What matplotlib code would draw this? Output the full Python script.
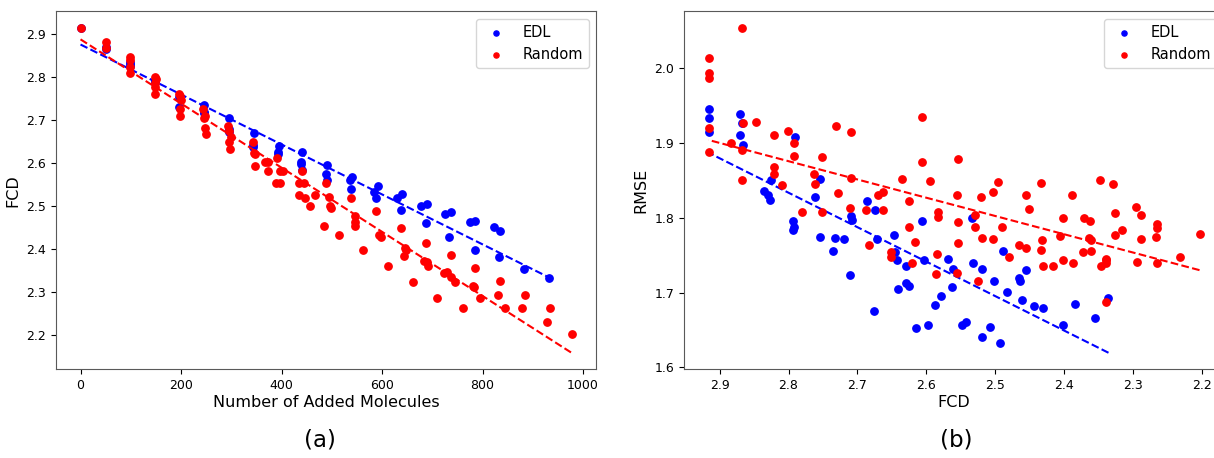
import numpy as np
import matplotlib
matplotlib.use('Agg')
import matplotlib.pyplot as plt

# (a) FCD vs number of added molecules
edl_added = [0, 50, 50, 99, 99, 99, 148, 148, 196, 196, 245, 245, 245, 295, 295, 295,
             345, 343, 343, 395, 392, 392, 441, 439, 439, 440, 491, 488, 490, 541, 537, 539,
             591, 583, 588, 640, 629, 637, 689, 677, 687, 737, 726, 734, 785, 774, 784,
             835, 822, 832, 883, 932]
edl_fcd = [2.915, 2.870, 2.866, 2.836, 2.830, 2.826, 2.793, 2.788, 2.753, 2.730, 2.735, 2.720,
           2.717, 2.706, 2.680, 2.673, 2.670, 2.642, 2.638, 2.640, 2.626, 2.622, 2.626, 2.602,
           2.597, 2.584, 2.595, 2.576, 2.560, 2.567, 2.562, 2.539, 2.546, 2.533, 2.518, 2.529,
           2.518, 2.492, 2.506, 2.500, 2.460, 2.487, 2.481, 2.429, 2.465, 2.464, 2.399, 2.443,
           2.452, 2.382, 2.353, 2.334]

rnd_added = [0, 50, 50, 99, 99, 99, 99, 148, 150, 148, 148, 148, 196, 198, 200, 198, 198,
             243, 248, 245, 248, 249, 294, 296, 300, 296, 298, 343, 346, 348, 347,
             368, 374, 374, 390, 397, 403, 389, 397, 440, 434, 444, 435, 447, 456, 466,
             488, 495, 497, 498, 485, 515, 539, 546, 546, 546, 562, 588, 594, 598, 611,
             637, 645, 648, 644, 661, 687, 683, 689, 691, 710, 724, 730, 737, 745, 737, 761,
             780, 782, 785, 795, 830, 835, 845, 878, 885, 928, 934, 977]
rnd_fcd = [2.915, 2.882, 2.868, 2.846, 2.840, 2.823, 2.809, 2.801, 2.795, 2.787, 2.777, 2.762,
           2.760, 2.756, 2.748, 2.727, 2.709, 2.727, 2.709, 2.706, 2.683, 2.669, 2.686, 2.675,
           2.661, 2.650, 2.634, 2.650, 2.624, 2.621, 2.593, 2.603, 2.603, 2.581, 2.613, 2.583,
           2.581, 2.553, 2.553, 2.581, 2.553, 2.553, 2.527, 2.519, 2.500, 2.527, 2.553, 2.522,
           2.500, 2.495, 2.453, 2.433, 2.518, 2.477, 2.464, 2.453, 2.399, 2.489, 2.432, 2.429,
           2.360, 2.450, 2.403, 2.399, 2.385, 2.323, 2.415, 2.372, 2.371, 2.361, 2.287, 2.345,
           2.348, 2.336, 2.324, 2.386, 2.264, 2.314, 2.311, 2.357, 2.287, 2.293, 2.326, 2.264,
           2.264, 2.293, 2.230, 2.263, 2.202]

# trend lines: (intercept, slope)
edl_trend_a = (2.876, -0.000581)
rnd_trend_a = (2.888, -0.000746)

# (b) RMSE vs FCD
edl_x = [2.916, 2.916, 2.916, 2.871, 2.868, 2.871, 2.866, 2.790, 2.754, 2.825, 2.836, 2.830,
         2.827, 2.762, 2.794, 2.792, 2.794, 2.755, 2.732, 2.719, 2.736, 2.711, 2.709, 2.708,
         2.686, 2.674, 2.676, 2.672, 2.647, 2.646, 2.642, 2.629, 2.641, 2.629, 2.625, 2.615,
         2.606, 2.603, 2.598, 2.587, 2.579, 2.569, 2.534, 2.489, 2.561, 2.532, 2.520, 2.455,
         2.563, 2.502, 2.466, 2.464, 2.483, 2.462, 2.444, 2.431, 2.384, 2.336, 2.355, 2.402,
         2.548, 2.542, 2.508, 2.520, 2.494]
edl_rmse = [1.946, 1.934, 1.914, 1.939, 1.926, 1.910, 1.897, 1.908, 1.852, 1.851, 1.836, 1.831,
            1.824, 1.828, 1.795, 1.787, 1.783, 1.774, 1.773, 1.772, 1.756, 1.724, 1.803, 1.797,
            1.822, 1.811, 1.676, 1.772, 1.777, 1.754, 1.744, 1.736, 1.705, 1.713, 1.709, 1.652,
            1.795, 1.743, 1.656, 1.684, 1.696, 1.745, 1.800, 1.755, 1.732, 1.739, 1.732, 1.730,
            1.708, 1.716, 1.719, 1.715, 1.701, 1.690, 1.682, 1.680, 1.685, 1.693, 1.666, 1.657,
            1.656, 1.661, 1.654, 1.640, 1.633]

rnd_x = [2.868, 2.916, 2.916, 2.916, 2.916, 2.916, 2.866, 2.847, 2.884, 2.867, 2.867, 2.821,
         2.801, 2.792, 2.792, 2.821, 2.821, 2.810, 2.731, 2.710, 2.763, 2.762, 2.752, 2.710,
         2.606, 2.606, 2.636, 2.595, 2.554, 2.496, 2.434, 2.348, 2.329, 2.781, 2.752, 2.728,
         2.711, 2.688, 2.670, 2.663, 2.663, 2.684, 2.651, 2.651, 2.626, 2.626, 2.621, 2.616,
         2.583, 2.583, 2.584, 2.586, 2.556, 2.521, 2.503, 2.456, 2.452, 2.389, 2.530, 2.554,
         2.530, 2.491, 2.520, 2.503, 2.554, 2.466, 2.456, 2.480, 2.434, 2.433, 2.431, 2.417,
         2.406, 2.402, 2.402, 2.388, 2.372, 2.363, 2.364, 2.362, 2.373, 2.361, 2.347, 2.340,
         2.340, 2.340, 2.340, 2.327, 2.327, 2.317, 2.296, 2.289, 2.289, 2.295, 2.266, 2.266,
         2.267, 2.266, 2.232, 2.204, 2.525, 2.556]
rnd_rmse = [2.054, 2.014, 1.994, 1.987, 1.920, 1.888, 1.926, 1.928, 1.900, 1.891, 1.851, 1.911,
            1.916, 1.900, 1.882, 1.868, 1.859, 1.844, 1.923, 1.914, 1.858, 1.845, 1.881, 1.853,
            1.935, 1.874, 1.852, 1.849, 1.879, 1.848, 1.846, 1.850, 1.845, 1.808, 1.808, 1.833,
            1.813, 1.811, 1.830, 1.835, 1.811, 1.763, 1.748, 1.754, 1.822, 1.788, 1.740, 1.768,
            1.808, 1.801, 1.752, 1.725, 1.830, 1.828, 1.834, 1.830, 1.812, 1.830, 1.804, 1.794,
            1.788, 1.787, 1.773, 1.772, 1.766, 1.763, 1.760, 1.748, 1.757, 1.770, 1.735, 1.736,
            1.775, 1.800, 1.744, 1.739, 1.800, 1.796, 1.773, 1.770, 1.754, 1.756, 1.736, 1.745,
            1.743, 1.740, 1.688, 1.806, 1.777, 1.784, 1.814, 1.804, 1.772, 1.741, 1.792, 1.786,
            1.774, 1.740, 1.748, 1.778, 1.715, 1.726]

# (intercept, slope) for RMSE = b + k * FCD
edl_trend_b = (0.5424, 0.4611)
rnd_trend_b = (1.1913, 0.2444)


def trendLine(ax, x, trend, color):
    b, k = trend
    xs = np.array([min(x), max(x)])
    ax.plot(xs, b + k * xs, color=color, linestyle='--', linewidth=1.5)


def makePanel(ax, x1, y1, x2, y2, t1, t2, xlabel, ylabel):
    ax.scatter(x1, y1, color='blue', s=28, label='EDL', zorder=2)
    ax.scatter(x2, y2, color='red', s=28, label='Random', zorder=3)
    trendLine(ax, x1, t1, 'blue')
    trendLine(ax, x2, t2, 'red')
    ax.set_xlabel(xlabel, fontsize=11.5, labelpad=2)
    ax.set_ylabel(ylabel, fontsize=11.5)
    ax.tick_params(labelsize=9)
    for sp in ax.spines.values():
        sp.set_color('0.35')
    ax.legend(loc='upper right', fontsize=10.5, markerscale=0.7)


def main():
    fig = plt.figure(figsize=(12.14, 4.58), dpi=100)
    ax1 = fig.add_axes([0.0461, 0.1943, 0.4449, 0.7806])
    ax2 = fig.add_axes([0.5634, 0.1943, 0.4449, 0.7806])

    makePanel(ax1, edl_added, edl_fcd, rnd_added, rnd_fcd, edl_trend_a, rnd_trend_a,
              'Number of Added Molecules', 'FCD')
    makePanel(ax2, edl_x, edl_rmse, rnd_x, rnd_rmse, edl_trend_b, rnd_trend_b,
              'FCD', 'RMSE')
    ax2.invert_xaxis()

    fig.text(0.2636, 0.039, '(a)', fontsize=16.5, ha='center', va='center')
    fig.text(0.788, 0.039, '(b)', fontsize=16.5, ha='center', va='center')

    fig.savefig('out.png', dpi=100)


if __name__ == "__main__":
    main()
